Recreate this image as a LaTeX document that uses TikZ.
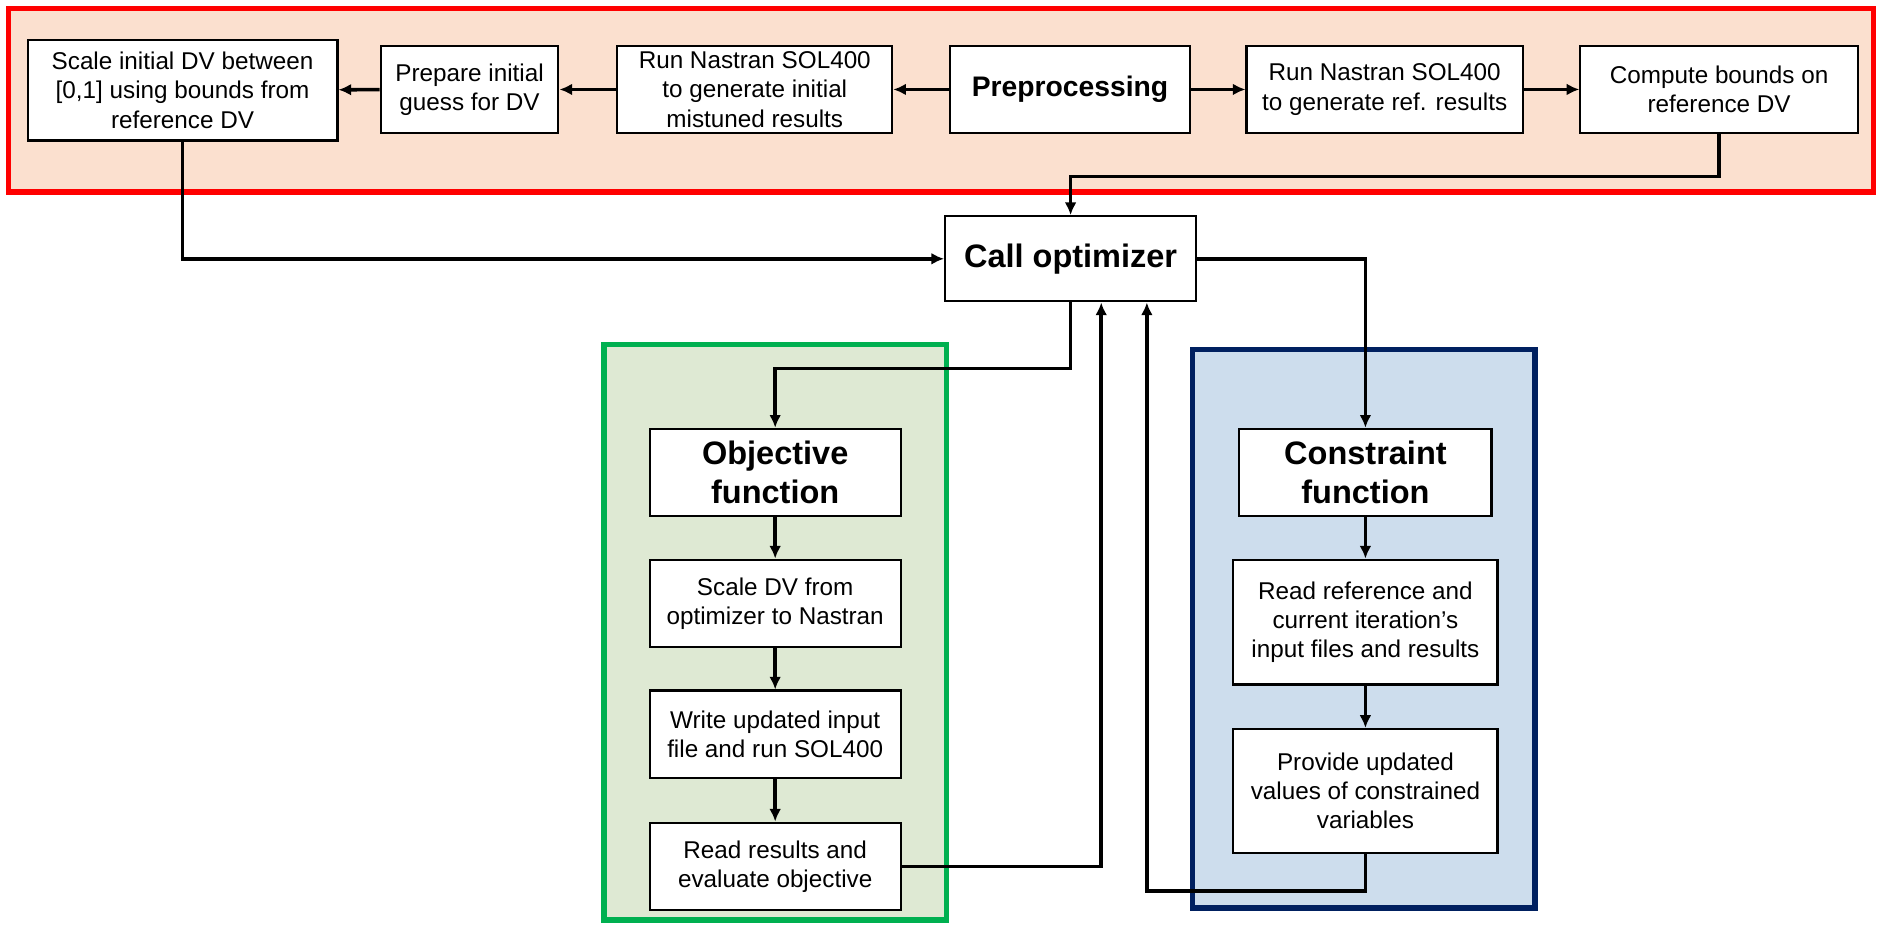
\documentclass[tikz,border=0pt]{standalone}
\usepackage{fontspec}
\setmainfont{Liberation Sans}
\usetikzlibrary{arrows.meta,calc}
\definecolor{ink}{HTML}{000000}
\definecolor{preRed}{HTML}{FF0000}
\definecolor{preFill}{HTML}{FBE0CF}
\definecolor{objGreen}{HTML}{00B050}
\definecolor{objFill}{HTML}{DEE9D3}
\definecolor{conBlue}{HTML}{002060}
\definecolor{conFill}{HTML}{CDDDED}
\tikzset{>={Latex[length=6pt,width=5.6pt]},
  box/.style={draw=ink,fill=white,line width=1pt,align=center,inner sep=2pt,
    minimum height=1.46cm,font=\fontsize{11.5}{13.9}\selectfont},
  head/.style={box,font=\fontsize{15.4}{18.2}\selectfont\bfseries},
  flow/.style={draw=ink,line width=1.7pt,->},
  frame/.style={line width=2.6pt}}

\begin{document}
\begin{tikzpicture}
  \useasboundingbox (0,0) rectangle (31.36,-15.5);
  % frames
  \draw[frame,draw=preRed,fill=preFill] (0.14,-0.14) rectangle (31.2,-3.2);
  \draw[frame,draw=objGreen,fill=objFill] (10.06,-5.74) rectangle (15.76,-15.32);
  \draw[frame,draw=conBlue,fill=conFill] (19.86,-5.82) rectangle (25.56,-15.12);
  % preprocessing row
  \node[box,minimum width=5.16cm,minimum height=1.68cm] (sc) at (3.04,-1.5)
    {Scale initial DV between\\ {[0,1]} using bounds from\\ reference DV};
  \node[box,minimum width=2.96cm] (guess) at (7.82,-1.49) {Prepare initial\\ guess for DV};
  \node[box,minimum width=4.58cm] (mis) at (12.57,-1.49)
    {Run Nastran SOL400\\ to generate initial\\ mistuned results};
  \node[head,minimum width=4cm,font=\fontsize{13.4}{16}\selectfont\bfseries] (pre) at (17.82,-1.49) {Preprocessing};
  \node[box,minimum width=4.6cm] (ref) at (23.06,-1.49)
    {Run Nastran SOL400\\ to generate ref. results};
  \node[box,minimum width=4.62cm] (bnd) at (28.63,-1.49) {Compute bounds on\\ reference DV};
  % optimizer
  \node[head,minimum width=4.18cm,minimum height=1.42cm] (call) at (17.83,-4.31) {Call optimizer};
  % objective column
  \node[head,minimum width=4.18cm] (obj) at (12.91,-7.87) {Objective\\ function};
  \node[box,minimum width=4.18cm] (sdv) at (12.91,-10.05) {Scale DV from\\ optimizer to Nastran};
  \node[box,minimum width=4.18cm] (wri) at (12.91,-12.23) {Write updated input\\ file and run SOL400};
  \node[box,minimum width=4.18cm] (rd) at (12.91,-14.43) {Read results and\\ evaluate objective};
  % constraint column
  \node[head,minimum width=4.2cm] (con) at (22.74,-7.87) {Constraint\\ function};
  \node[box,minimum width=4.4cm,minimum height=2.08cm] (rref) at (22.74,-10.36)
    {Read reference and\\ current iteration’s\\ input files and results};
  \node[box,minimum width=4.4cm,minimum height=2.06cm] (prov) at (22.74,-13.17)
    {Provide updated\\ values of constrained\\ variables};
  % connectors
  \draw[flow] (pre) -- (mis);
  \draw[flow] (mis) -- (guess);
  \draw[flow] (guess) -- (sc);
  \draw[flow] (pre) -- (ref);
  \draw[flow] (ref) -- (bnd);
  \draw[flow] (bnd.south) -- ++(0,-0.7) -| (call.north);
  \draw[flow] (sc.south) |- (call.west);
  \draw[flow] (call.east) -| (con.north);
  \draw[flow] (call.south) -- ++(0,-1.1) -| (obj.north);
  \draw[flow] (obj) -- (sdv);
  \draw[flow] (sdv) -- (wri);
  \draw[flow] (wri) -- (rd);
  \draw[flow] (con) -- (rref);
  \draw[flow] (rref) -- (prov);
  \draw[flow] (rd.east) -| ([xshift=0.51cm]call.south);
  \draw[flow] (prov.south) -- ++(0,-0.62) -| ([xshift=1.27cm]call.south);
\end{tikzpicture}
\end{document}
